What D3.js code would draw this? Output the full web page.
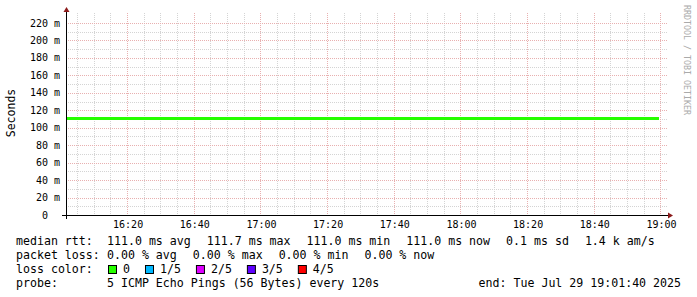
<!DOCTYPE html>
<html><head><meta charset="utf-8">
<script src="https://cdn.jsdelivr.net/npm/d3@7"></script>
<style>
html,body{margin:0;padding:0;background:#fff;}
svg{display:block;}
text{font-family:"DejaVu Sans Mono",monospace;white-space:pre;}
</style></head>
<body>
<svg id="c" width="697" height="297" xmlns="http://www.w3.org/2000/svg"></svg>
<script>
// ---- data ----
const startTime = new Date(2025, 6, 29, 16, 1, 40);
const endTime = new Date(2025, 6, 29, 19, 1, 40);
const stepSeconds = 120;
// median rtt (ms), one value per 120 s step
const medianRtt = [
 111.0,111.0,111.0,111.0,111.0,111.0,111.0,111.0,111.0,111.0,
 111.0,111.0,111.0,111.0,111.0,111.0,111.0,111.0,111.0,111.0,
 111.0,111.0,111.0,111.0,111.0,111.0,111.0,111.0,111.0,111.0,
 111.0,111.0,111.0,111.0,111.0,111.0,111.0,111.0,111.0,111.0,
 111.0,111.0,111.0,111.0,111.0,111.0,111.0,111.0,111.0,111.0,
 111.0,111.0,111.0,111.0,111.0,111.0,111.0,111.0,111.0,110.2,
 110.2,111.0,111.0,111.0,111.0,111.0,111.0,111.0,111.0,111.0,
 111.0,111.0,111.0,111.0,111.0,111.0,111.0,111.0,111.0,111.0,
 111.0,111.0,111.0,111.0,111.0,111.0,111.0,111.0,111.0
];
const xTickLabels = ["16:20","16:40","17:00","17:20","17:40","18:00","18:20","18:40","19:00"];
const yTickValues = [0,20,40,60,80,100,120,140,160,180,200,220];
const yTickLabels = ["0  ","20 m","40 m","60 m","80 m","100 m","120 m","140 m","160 m","180 m","200 m","220 m"];
const lossLabels = ["0","1/5","2/5","3/5","4/5"];
const lossColors = ["#26ff00","#00b8ff","#dd00ff","#5e00ff","#ff0000"];
const rowLabels = ["median rtt:", "packet loss:", "loss color:", "probe:"];
const rttStats = ["111.0 ms avg","111.7 ms max","111.0 ms min","111.0 ms now","0.1 ms sd","1.4 k am/s"];
const lossStats = ["0.00 % avg","0.00 % max","0.00 % min","0.00 % now"];
const probeText = ["5 ICMP Echo Pings (56 Bytes) every 120s"];
const endLabel = "end: Tue Jul 29 19:01:40 2025";
const yAxisTitle = "Seconds";
const watermark = "RRDTOOL / TOBI OETIKER";

// ---- drawing ----
const svg = d3.select("#c");
const L = 66, R = 666, T = 15, B = 215;
const x = d3.scaleTime().domain([startTime, endTime]).range([L, R]);
const y = d3.scaleLinear().domain([0, 229.2]).range([B, T]);

const minorColor = "#d4d4d4", majorColor = "#e8b0b0";
const g = svg.append("g");

const minorX = d3.timeMinute.every(5).range(startTime, endTime);
const majorX = xTickLabels.map(s => { const [h,m] = s.split(":").map(Number); return new Date(2025,6,29,h,m,0); });
g.selectAll(".vmin").data(minorX.filter(d => d.getMinutes() % 20 !== 0)).enter().append("line")
  .attr("x1", d => Math.round(x(d)) + 0.5).attr("x2", d => Math.round(x(d)) + 0.5)
  .attr("y1", T - 2).attr("y2", B)
  .attr("stroke", minorColor).attr("stroke-dasharray", "1,1");
const minorY = d3.range(10, 230, 20);
g.selectAll(".hmin").data(minorY).enter().append("line")
  .attr("y1", d => Math.round(y(d)) + 0.5).attr("y2", d => Math.round(y(d)) + 0.5)
  .attr("x1", L).attr("x2", R + 2)
  .attr("stroke", minorColor).attr("stroke-dasharray", "1,1");
g.selectAll(".vmaj").data(majorX).enter().append("line")
  .attr("x1", d => Math.round(x(d)) + 0.5).attr("x2", d => Math.round(x(d)) + 0.5)
  .attr("y1", T - 2).attr("y2", B)
  .attr("stroke", majorColor).attr("stroke-dasharray", "1,1");
g.selectAll(".hmaj").data(yTickValues.filter(v => v > 0)).enter().append("line")
  .attr("y1", d => Math.round(y(d)) + 0.5).attr("y2", d => Math.round(y(d)) + 0.5)
  .attr("x1", L).attr("x2", R + 2)
  .attr("stroke", majorColor).attr("stroke-dasharray", "1,1");

// median line
const pts = [];
medianRtt.forEach((v, i) => {
  const t0 = new Date(startTime.getTime() + i * stepSeconds * 1000);
  const t1 = new Date(t0.getTime() + stepSeconds * 1000);
  pts.push([t0, v], [t1, v]);
});
svg.append("path").datum(pts)
  .attr("d", d3.line().x(d => x(d[0])).y(d => y(d[1])))
  .attr("fill", "none").attr("stroke", lossColors[0]).attr("stroke-width", 3)
  .attr("shape-rendering", "crispEdges");

// axes
const axisColor = "#000";
svg.append("line").attr("x1", L + 0.5).attr("x2", L + 0.5).attr("y1", T - 3).attr("y2", B + 4)
  .attr("stroke", axisColor);
svg.append("line").attr("x1", L - 4).attr("x2", R + 3).attr("y1", B + 0.5).attr("y2", B + 0.5)
  .attr("stroke", axisColor);
const arrowColor = "#8b1a1a";
svg.append("path").attr("d", `M${R+2},${B-2.5} L${R+7},${B+0.5} L${R+2},${B+3.5} Z`).attr("fill", arrowColor);
svg.append("path").attr("d", `M${L-2.5},${T-3} L${L+0.5},${T-8} L${L+3.5},${T-3} Z`).attr("fill", arrowColor);

// y labels
svg.selectAll(".yl").data(yTickValues).enter().append("text")
  .attr("xml:space", "preserve")
  .attr("x", 60).attr("y", d => y(d) + 3.5)
  .attr("text-anchor", "end").attr("font-size", 10).attr("fill", "#000")
  .text((d, i) => yTickLabels[i]);
// x labels
svg.selectAll(".xl").data(majorX).enter().append("text")
  .attr("x", d => x(d) + 1).attr("y", 228)
  .attr("text-anchor", "middle").attr("font-size", 10).attr("fill", "#000")
  .text((d, i) => xTickLabels[i]);

// y title
svg.append("text").attr("transform", "translate(15,113) rotate(-90)")
  .attr("text-anchor", "middle").attr("font-size", 11.5).attr("fill", "#000").text(yAxisTitle);

// watermark
svg.append("text").attr("transform", "translate(684,5) rotate(90)")
  .attr("text-anchor", "start").attr("font-size", 8.3).attr("fill", "#aaaaaa").text(watermark);

// legend
const fs = 11.6, gap = 16, valueX = 107;
const baselines = [245, 259, 273, 287];
rowLabels.forEach((s, i) => {
  svg.append("text").attr("x", 16).attr("y", baselines[i]).attr("font-size", fs).attr("fill", "#000").text(s);
});
function placeItems(items, row) {
  let cx = valueX;
  items.forEach(s => {
    const t = svg.append("text").attr("x", cx).attr("y", baselines[row])
      .attr("font-size", fs).attr("fill", "#000").text(s);
    cx += t.node().getComputedTextLength() + gap;
  });
}
placeItems(rttStats, 0);
placeItems(lossStats, 1);
placeItems(probeText, 3);
svg.append("text").attr("x", 681).attr("y", baselines[3]).attr("text-anchor", "end")
  .attr("font-size", fs).attr("fill", "#000").text(endLabel);
let bx = 108;
lossLabels.forEach((lab, i) => {
  svg.append("rect").attr("x", bx + 0.5).attr("y", 265.5).attr("width", 8).attr("height", 8)
    .attr("fill", lossColors[i]).attr("stroke", "#000");
  const t = svg.append("text").attr("x", bx + 15).attr("y", baselines[2]).attr("font-size", fs).attr("fill", "#000").text(lab);
  bx = bx + 15 + t.node().getComputedTextLength() + 15;
});
</script>
</body></html>
